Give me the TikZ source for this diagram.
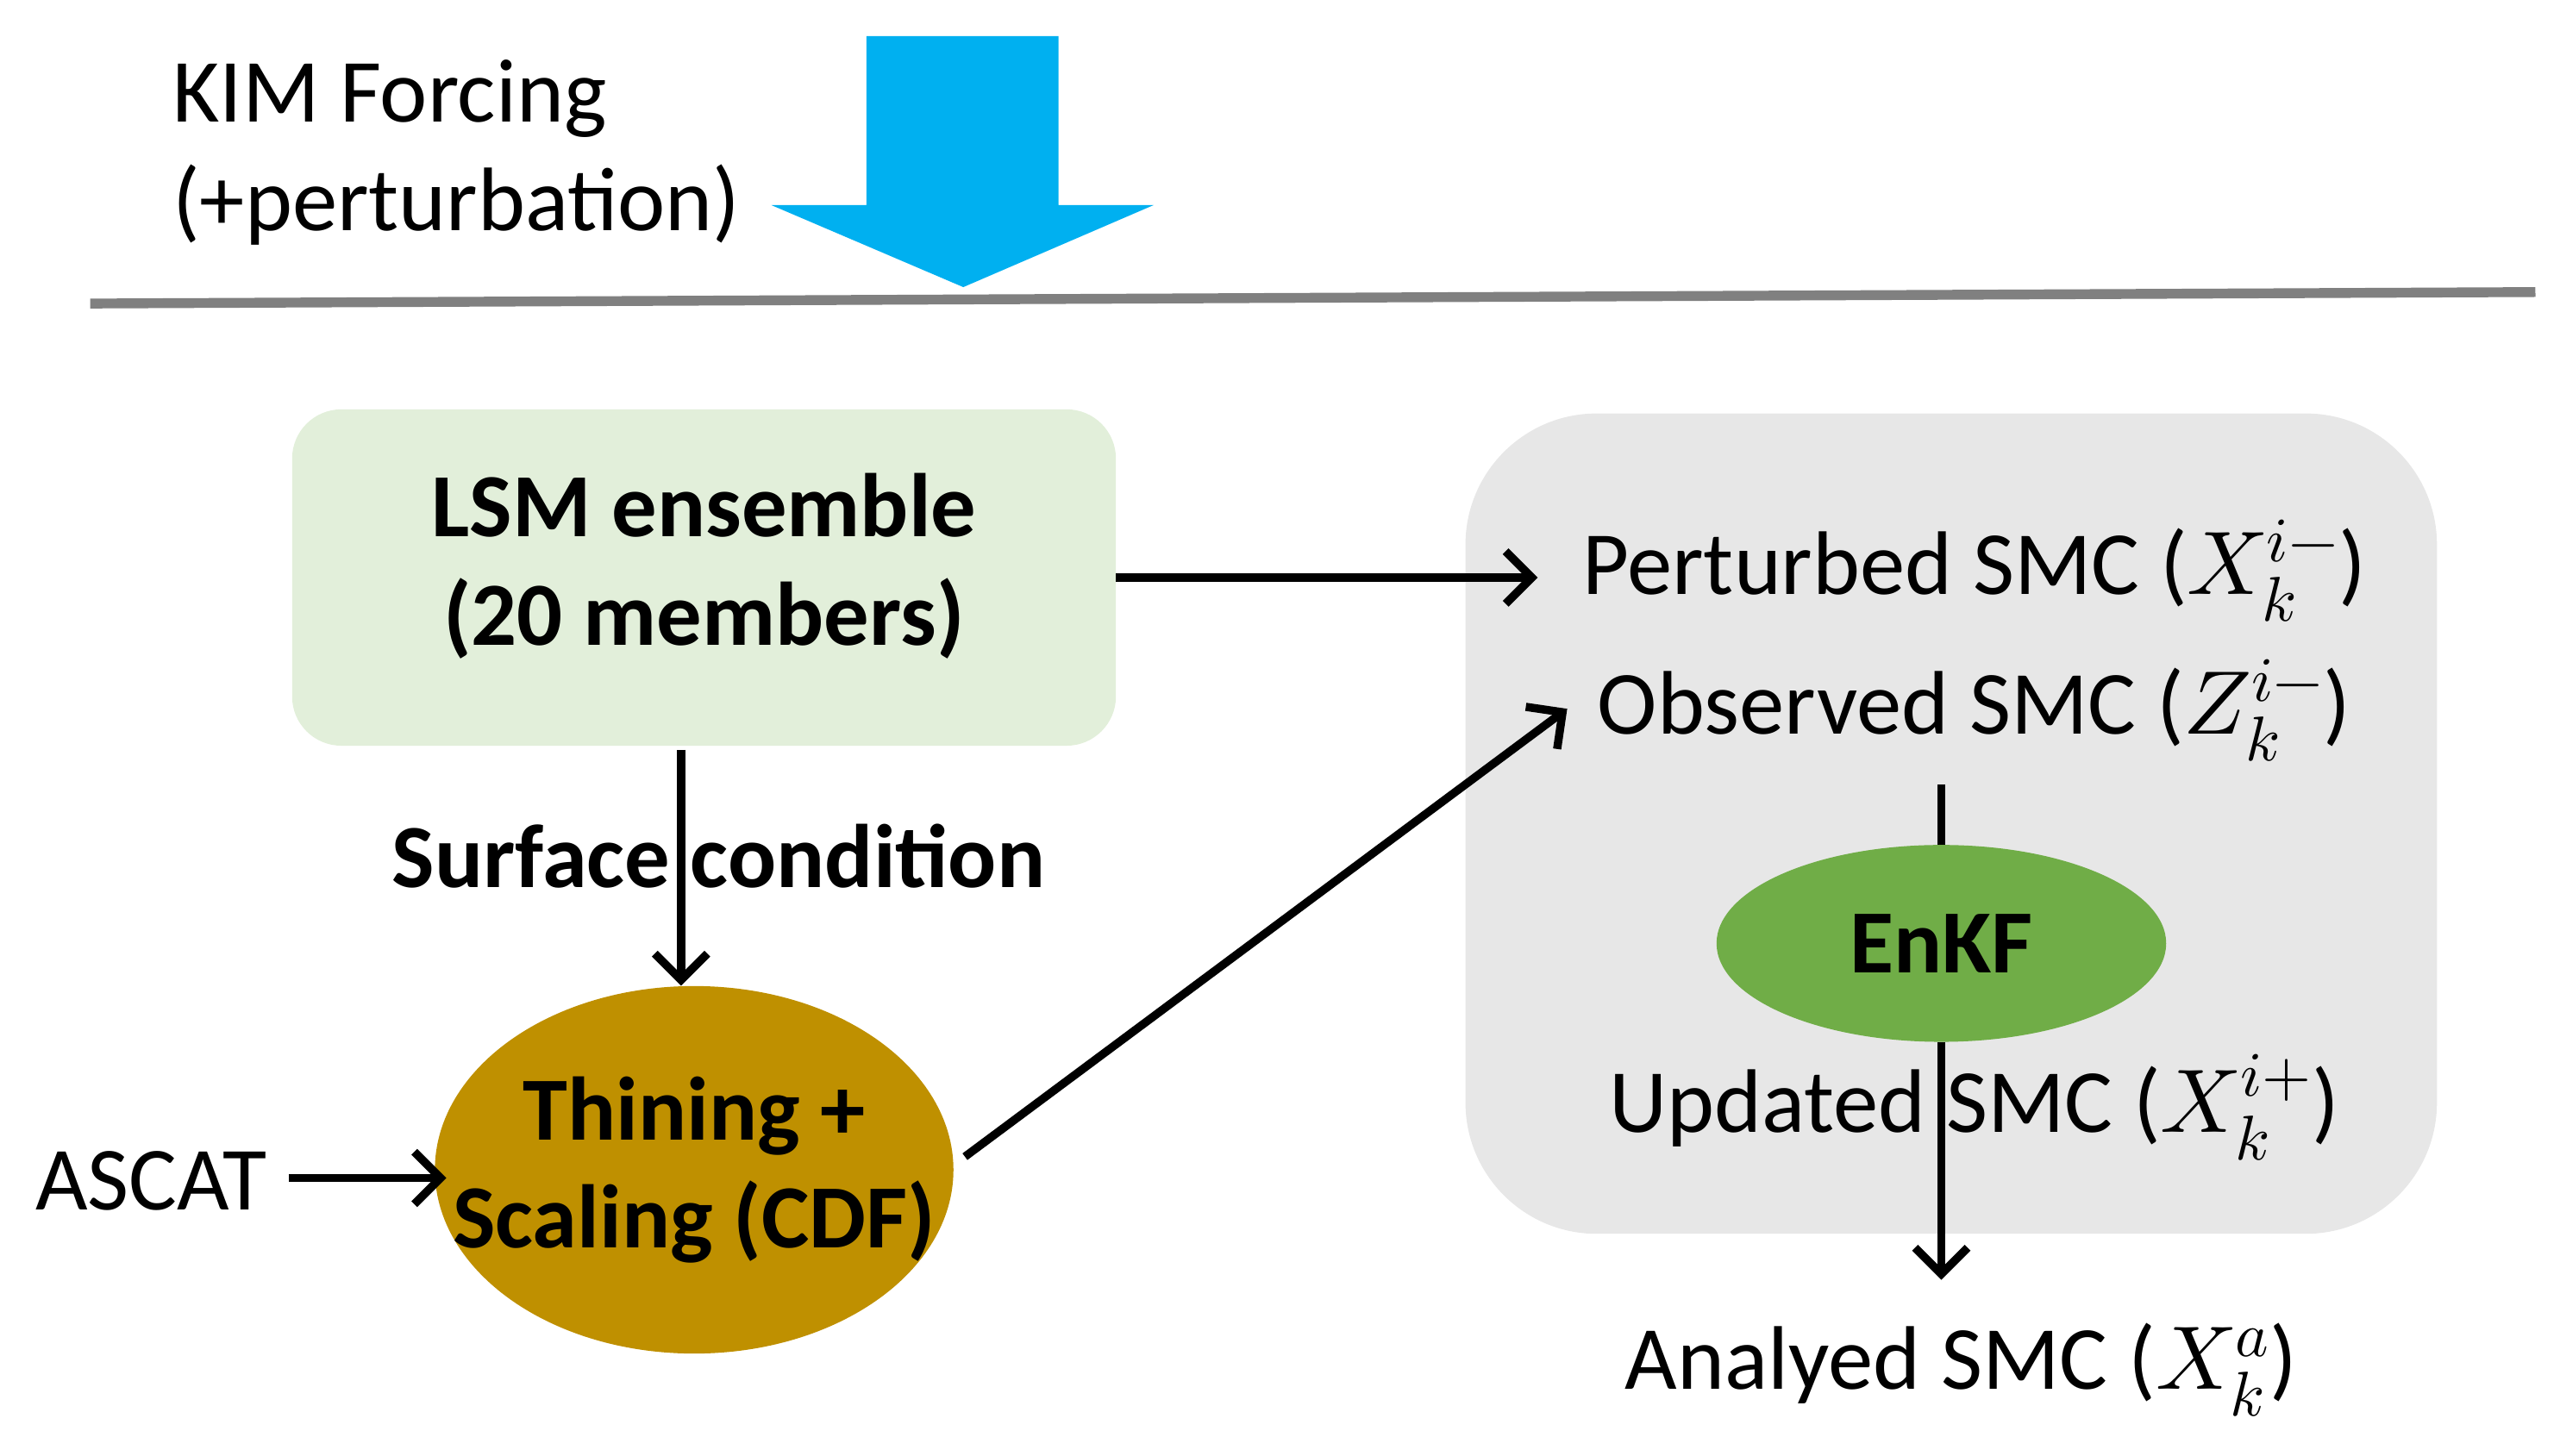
\documentclass[tikz,border=0pt]{standalone}
\usepackage{fontspec}
\usepackage{unicode-math}
\setmainfont{Carlito}
\setmathfont{Latin Modern Math}
\usetikzlibrary{arrows.meta,shapes.geometric}
\definecolor{cyanb}{RGB}{0,176,240}
\definecolor{lgreen}{RGB}{226,239,218}
\definecolor{lgray}{RGB}{231,231,231}
\definecolor{egreen}{RGB}{112,173,71}
\definecolor{gold}{RGB}{191,144,0}
\begin{document}
\begin{tikzpicture}[x=1pt,y=-1pt,
  arr/.style={line width=5pt,-{Straight Barb[length=16pt,width=32pt,line width=5pt]}},
  ln/.style={line width=5pt},
  txt/.style={font=\fontsize{55}{64}\selectfont,inner sep=0pt},
  btxt/.style={font=\fontsize{55}{66}\selectfont\bfseries,inner sep=0pt,align=center}]
\useasboundingbox (0,0) rectangle (1560,887);
% top
\node[txt,anchor=west] (kim) at (105,60) {KIM Forcing};
\node[txt,anchor=west] (pert) at (105,125) {(+perturbation)};
\fill[cyanb] (528,22) -- (645,22) -- (645,125) -- (703,125) -- (587,175) -- (470,125) -- (528,125) -- cycle;
\coordinate (l1) at (55,185); \coordinate (l2) at (1545,178);
\draw[line width=6pt,gray] (l1) -- (l2);
% regions
\node[draw=none,fill=lgreen,rounded corners=30pt,minimum width=502pt,minimum height=205pt] (lsm) at (429,352) {};
\node[btxt] at (429,345) {LSM ensemble\\(20 members)};
\node[fill=lgray,rounded corners=80pt,minimum width=592pt,minimum height=500pt] (grp) at (1189,502) {};
\node[txt] (ptb) at (1203,348) {Perturbed SMC ($X_k^{i-}$)};
\node[txt] (obs) at (1203,433) {Observed SMC ($Z_k^{i-}$)};
\node[ellipse,fill=egreen,minimum width=274pt,minimum height=120pt,inner sep=0pt] (enkf) at (1183,575) {};
\node[btxt] at (1183,575) {EnKF};
\coordinate (o1) at (1183,478);
\coordinate (an) at (1183,780);
\draw[ln] (o1) -- (enkf.north);
\draw[arr] (enkf.south) -- (an);
\node[txt] (upd) at (1203,675) {Updated SMC ($X_k^{i+}$)};
\node[txt] (ana) at (1195,835) {Analyed SMC ($X_k^{a}$)};
% left
\node[ellipse,fill=gold,minimum width=316pt,minimum height=224pt,inner sep=0pt] (thin) at (423,713) {};
\coordinate (s1) at (415,457);
\draw[arr] (s1) -- (thin.north -| s1);
\node[btxt] (sfc) at (438,522) {Surface condition};
\node[btxt] at (423,713) {Thining +\\Scaling (CDF)};
\node[txt] (ascat) at (92,720) {ASCAT};
\coordinate (a1) at (176,718);
\draw[arr] (a1) -- (272,718);
\coordinate (p1) at (680,352); \coordinate (p2) at (937,352);
\draw[arr] (p1) -- (p2);
\coordinate (t1) at (588,705); \coordinate (t2) at (955,432);
\draw[arr] (t1) -- (t2);
\end{tikzpicture}
\end{document}
